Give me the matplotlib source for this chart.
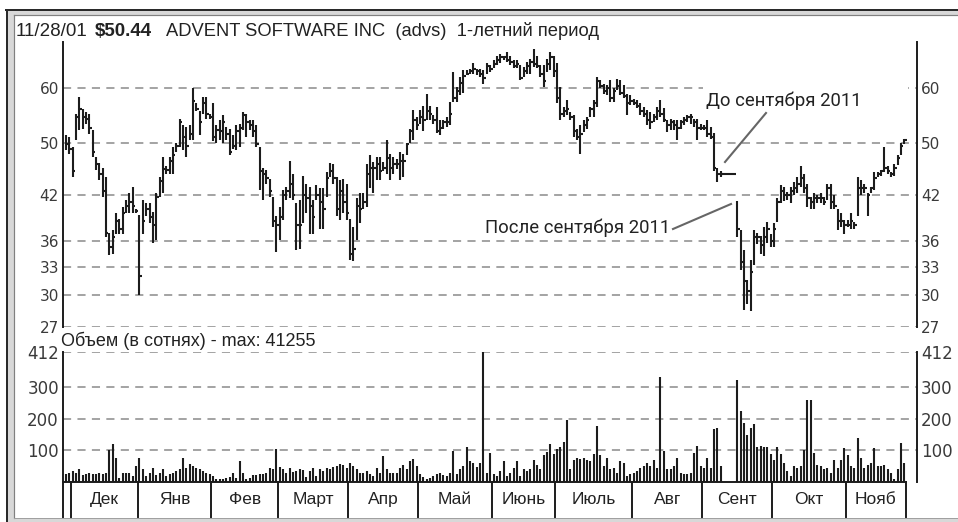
import numpy as np
import matplotlib
matplotlib.use("Agg")
import matplotlib.pyplot as plt
from matplotlib.patches import Rectangle
from matplotlib.lines import Line2D
from matplotlib.ticker import NullLocator

# ---- data (daily bars, Nov 29 2000 .. Nov 28 2001; None = market closed) ----
high = [
    51.3, 51.0,
    49.3, 55.0, 58.3, 56.0, 55.4, 55.1, 52.2, 47.7, 46.7, 46.0, 44.6, 37.0, 37.3, 39.5, 38.8, 40.3, 41.3, 42.2, 43.1, 40.1,
    39.3, 41.3, 40.8, 40.8, 39.7, 42.2, 44.6, 47.7, 46.2, 47.7, 49.3, 50.0, 54.2, 53.0, 52.7, 53.0, 60.0, 57.0, 55.6, 58.3, 58.3, 55.1,
    57.0, 53.0, 53.9, 54.8, 52.7, 52.4, 51.3, 53.0, 53.3, 55.4, 55.1, 53.9, 53.9, 53.0, 49.3, 46.0, 45.6, 44.3, 41.7, 39.1,
    40.3, 42.7, 43.1, 47.0, 45.1, 40.8, 41.3, 44.8, 43.6, 43.1, 41.3, 43.4, 42.9, 42.9, 45.3, 46.7, 46.5, 44.6, 44.1, 44.3, 43.6,
    38.8, 37.7, 41.5, 42.2, 42.2, 46.5, 48.0, 46.9, 47.7, 47.7, 46.9, 50.4, 48.2, 47.7, 47.4, 48.5, 48.2, 49.9, 52.4, 55.7, 54.5,
    55.7, 56.5, 58.9, 56.5, 54.8, 56.4, 53.9, 53.9, 54.5, 57.3, 63.4, 60.3, 62.3, 63.7, 63.7, 64.0, 65.3, 64.0, 64.0, 63.7, 65.2, 64.8,
    65.9, 66.9, 67.2, 66.9, 67.6, 66.9, 65.9, 65.9, 64.8, 64.4, 65.5, 66.2, 68.4, 66.9, 64.8, 64.8, 66.2, 67.6, 66.9,
    65.2, 60.3, 56.4, 57.6, 55.4, 54.8, 52.4, 53.0, 53.9, 54.5, 56.4, 57.6, 62.3, 61.6, 60.9, 60.6, 61.6, 60.0, 61.9, 61.6, 60.6, 58.9, 58.6,
    57.9, 57.6, 57.0, 56.4, 55.7, 55.4, 55.1, 56.4, 57.6, 56.1, 53.9, 54.2, 53.9, 53.9, 53.9, 54.5, 54.8, 55.1, 54.2, 54.2, 53.3,
    53.0, 53.9, 52.7, 51.6, 46.0, 45.5, None, None, None, None, 41.1, 37.3, 34.9, 31.6, 33.8, 37.4, 37.0, 36.6, 37.7, 38.4, 36.9,
    38.2, 41.5, 43.4, 43.1, 42.4, 43.1, 43.9, 44.6, 46.2, 45.1, 43.6, 41.7, 42.2, 42.0, 42.2, 41.7, 43.6, 43.6, 42.0, 40.0, 39.5, 38.6,
    38.6, 39.5, 38.4, 44.6, 44.1, 43.6, 42.2, 43.1, 45.3, 45.3, 45.6, 49.3, 46.2, 45.3, 46.5, 48.0, 49.9, 50.7,
]
low = [
    48.8, 48.2,
    44.6, 50.4, 52.2, 52.4, 53.3, 51.4, 47.7, 45.6, 44.1, 41.7, 36.5, 34.4, 34.5, 36.9, 36.9, 36.9, 39.5, 39.5, 39.5, 39.5,
    30.0, 36.9, 39.1, 38.2, 35.7, 36.1, 41.7, 42.2, 45.1, 45.1, 45.1, 48.5, 49.3, 48.8, 47.7, 50.4, 50.4, 55.6, 51.3, 55.0, 54.2, 54.2,
    50.2, 49.9, 50.4, 49.9, 50.4, 48.0, 49.0, 48.8, 49.3, 52.2, 51.0, 52.2, 51.0, 49.3, 42.7, 41.3, 43.6, 41.7, 37.7, 34.7,
    36.1, 38.6, 41.3, 41.5, 41.3, 34.9, 35.1, 38.2, 39.5, 36.9, 36.9, 41.3, 37.5, 37.5, 41.7, 44.6, 43.6, 39.1, 38.6, 39.5, 38.6,
    33.8, 33.7, 36.1, 38.2, 40.0, 40.3, 42.9, 42.2, 44.1, 44.1, 45.5, 45.1, 44.1, 45.1, 45.8, 44.1, 44.6, 48.0, 49.9, 50.4, 52.2,
    53.3, 52.0, 53.9, 53.9, 53.3, 51.6, 51.3, 52.4, 52.7, 53.0, 57.3, 57.3, 58.6, 59.0, 62.7, 63.0, 63.0, 62.7, 62.3, 60.9, 63.0, 63.4,
    64.1, 64.8, 65.2, 65.9, 65.5, 64.8, 64.1, 64.1, 61.6, 62.3, 63.0, 63.0, 64.4, 64.1, 62.3, 60.3, 63.4, 63.7, 62.3,
    57.0, 53.9, 54.5, 54.8, 53.9, 51.0, 50.4, 48.2, 51.9, 52.4, 54.5, 54.5, 56.4, 60.0, 58.9, 58.6, 57.3, 57.3, 59.6, 58.6, 58.0, 54.8, 56.7,
    56.7, 56.1, 54.8, 54.5, 53.0, 52.4, 53.6, 53.9, 54.5, 53.6, 51.9, 52.2, 52.2, 50.4, 52.4, 53.0, 53.6, 53.3, 52.7, 50.4, 52.2,
    52.2, 51.0, 50.7, 45.5, 43.9, 44.6, None, None, None, None, 36.5, 32.7, 28.6, 29.2, 28.5, 33.2, 35.6, 34.5, 34.2, 35.7, 35.3,
    35.3, 38.4, 40.8, 41.1, 41.3, 40.8, 42.0, 42.2, 43.1, 42.2, 40.3, 40.0, 40.1, 40.8, 40.8, 40.6, 41.3, 40.1, 40.0, 37.3, 37.7, 36.9,
    37.7, 37.5, 37.5, 39.1, 42.0, 42.2, 39.1, 42.2, 42.7, 44.6, 44.8, 45.3, 45.1, 44.6, 44.8, 46.4, 48.0, 49.7,
]
close = [
    49.8, 49.0,
    45.5, 54.5, 56.0, 54.5, 54.2, 52.5, 48.5, 46.5, 45.0, 42.5, 37.0, 35.3, 36.5, 38.5, 37.5, 39.5, 40.5, 41.0, 40.5, 39.8,
    32.0, 38.5, 40.0, 39.0, 38.0, 41.7, 44.0, 45.8, 45.6, 47.0, 48.0, 49.5, 53.5, 51.0, 49.5, 51.5, 57.5, 56.0, 53.5, 57.0, 55.0, 54.5,
    51.0, 52.2, 52.0, 53.5, 51.5, 48.5, 49.5, 52.0, 52.5, 54.8, 53.5, 53.0, 52.0, 49.8, 45.5, 45.0, 44.5, 42.5, 38.5, 38.0,
    39.0, 42.0, 42.5, 43.5, 42.0, 38.0, 38.0, 42.0, 41.5, 40.5, 39.0, 42.0, 41.0, 40.0, 44.5, 45.5, 44.5, 40.0, 42.5, 41.0, 39.5,
    34.5, 35.0, 40.5, 40.0, 41.0, 45.0, 46.0, 46.0, 46.5, 45.5, 46.0, 47.5, 46.0, 46.5, 46.5, 47.0, 47.0, 49.8, 52.0, 54.0, 53.0,
    54.5, 54.0, 55.5, 55.0, 54.0, 52.0, 52.5, 53.5, 53.5, 55.0, 58.0, 59.5, 61.0, 62.5, 63.0, 63.5, 64.0, 63.5, 63.0, 62.0, 64.5, 64.0,
    65.0, 66.0, 66.5, 66.5, 66.0, 65.5, 64.5, 65.0, 62.0, 63.5, 64.5, 65.5, 65.0, 64.5, 63.0, 61.5, 65.0, 66.5, 63.5,
    58.0, 55.0, 55.5, 56.0, 54.5, 52.0, 51.0, 51.5, 53.0, 54.0, 56.0, 57.0, 61.5, 60.5, 59.5, 60.0, 58.0, 59.5, 60.5, 59.0, 58.5, 57.0, 57.5,
    57.0, 56.5, 55.5, 55.0, 54.0, 53.5, 54.5, 55.5, 55.0, 54.0, 53.0, 53.5, 53.0, 52.5, 53.5, 54.0, 54.5, 54.5, 53.5, 52.5, 52.5,
    52.5, 51.5, 51.0, 46.0, 45.0, 45.0, None, None, None, None, 37.5, 33.5, 31.5, 30.5, 32.5, 36.5, 36.5, 35.5, 36.5, 37.5, 36.0,
    37.5, 41.0, 42.5, 42.0, 42.0, 42.5, 43.0, 43.5, 44.5, 43.0, 41.5, 41.0, 41.5, 41.5, 41.5, 41.0, 43.0, 41.0, 40.5, 38.5, 38.5, 38.0,
    38.0, 38.5, 38.0, 43.0, 43.0, 43.0, 42.0, 43.0, 44.5, 45.0, 45.5, 46.0, 45.5, 45.0, 46.0, 47.5, 49.5, 50.44,
]
# volume in hundreds of shares
volume = [
    25, 30, 35, 28, 40, 22, 25, 28, 24, 26, 28, 25, 30,
    103, 121, 76, 12, 28, 30, 28, 20,
    50, 76, 40, 20, 30, 45, 22, 30, 40, 18, 25,
    30, 35, 40, 76, 45, 57, 50, 45, 42, 35, 30, 25,
    20, 10, 8, 10, 12, 15, 30, 12, 65, 30, 10, 12, 22, 22, 24, 25, 30, 45, 40,
    106, 48, 40, 30, 45, 32, 35, 40, 38, 15, 35, 45, 20, 40, 35, 45, 40, 48, 52, 58, 55, 45,
    60, 52, 40, 30, 28, 35, 25, 20, 45, 30, 81, 40, 30, 28, 30, 45, 55, 40, 68, 72, 50,
    25, 15, 10, 12, 20, 25, 30, 22, 20, 30, 97, 25, 40, 50, 111, 65, 60, 48, 60, 412,
    30, 92, 25, 20, 35, 65, 20, 30, 45, 65, 20, 40, 35, 40, 70, 55, 40, 85, 95, 119, 90, 105, 110, 126, 195, 40,
    70, 75, 72, 76, 70, 65, 90, 178, 85, 50, 75, 40, 45, 30, 65, 60,
    20, 25, 30, 35, 45, 50, 60, 50, 70, 45, 333, 97, 40, 40, 50, 76, 30, 25, 25, 30, 92, 113, 50, 45, 76, 45, 169, 172, 50,
    0, 0, 0, 0,
    322, 226, 188, 150, 172, 183, 110, 115, 112, 112, 90, 70, 111, 90, 60, 35, 20, 50, 45, 50,
    103, 261, 261, 92, 55, 50, 40, 45, 30, 70, 45, 70, 108, 85, 50, 45, 140, 75, 45, 55,
    60, 108, 50, 50, 55, 40, 30, 10, 40, 124, 60,
]
month_labels = ["Дек", "Янв", "Фев", "Март", "Апр", "Май", "Июнь", "Июль", "Авг", "Сент", "Окт", "Нояб"]
month_lengths = [2, 20, 22, 20, 21, 21, 22, 19, 23, 21, 21, 22, 18]   # trading days; first = end of Nov 2000
price_ticks = [27, 30, 33, 36, 42, 50, 60]
volume_ticks = [100, 200, 300, 412]
volume_max = 41255

W, H = 958, 522
INK = "#1c1c1c"
GRID = "#9c9c9c"


def box(left, top, right, bottom):
    return [left / W, 1 - bottom / H, (right - left) / W, (bottom - top) / H]


def fx(x):
    return x / W


def fy(y):
    return 1 - y / H


fig = plt.figure(figsize=(W / 100, H / 100), dpi=100)

# window frame
fig.add_artist(Rectangle((fx(6), 0), 1, fy(9.5), transform=fig.transFigure,
                         facecolor="#d8d8d8", edgecolor="none", zorder=-5))
fig.add_artist(Rectangle((fx(14), fy(517.5)), 1, fy(15.5) - fy(517.5), transform=fig.transFigure,
                         facecolor="white", edgecolor="none", zorder=-4))
for (x0, y0, x1, y1, c, w) in [(6, 9.5, W, 9.5, "#2a2a2a", 2), (7, 9.5, 7, H, "#2a2a2a", 2),
                               (13.5, 15, W, 15, "#808080", 1.2), (13.5, 15, 13.5, 518, "#808080", 1.2),
                               (13.5, 518, W, 518, "#a0a0a0", 1)]:
    fig.add_artist(Line2D([fx(x0), fx(x1)], [fy(y0), fy(y1)], transform=fig.transFigure, color=c, lw=w * 0.72))

idx = np.arange(len(close))
hi = np.array(high, dtype=float)
lo = np.array(low, dtype=float)
cl = np.array(close, dtype=float)
xlim = (-0.9, 254.8)


def style_axes(ax, ticks, fontsize):
    for s in ("top", "bottom"):
        ax.spines[s].set_visible(False)
    for s in ("left", "right"):
        ax.spines[s].set_color(INK)
        ax.spines[s].set_linewidth(1.4)
    ax.set_xticks([])
    ax.set_yticks(ticks)
    ax.set_yticklabels([str(t) for t in ticks])
    ax.yaxis.set_minor_locator(NullLocator())
    ax.tick_params(axis="y", which="both", length=0, pad=3, left=True, right=True,
                   labelleft=True, labelright=True, labelsize=fontsize, labelcolor="#3a3a3a")
    for lab in ax.get_yticklabels():
        lab.set_family("DejaVu Sans")
    for t in ticks:
        ax.axhline(t, color=GRID, lw=1.3, ls=(0, (4.5, 3.5)), zorder=0)
    ax.set_xlim(*xlim)


# price panel
ax = fig.add_axes(box(63, 42, 917, 327))
ax.set_yscale("log")
ax.set_ylim(27, 70)
style_axes(ax, price_ticks, 11)
ax.vlines(idx, lo, hi, color=INK, lw=1.5)
ax.hlines(cl, idx, idx + 0.7, color=INK, lw=1.5)
halt = np.where(np.isnan(cl))[0]
ax.hlines(cl[halt[0] - 1], halt[0] - 1, halt[-1] + 0.6, color=INK, lw=1.5)

# annotations
fig.add_artist(Rectangle((fx(703), fy(114)), fx(908) - fx(703), fy(80) - fy(114),
                         transform=fig.transFigure, facecolor="white", edgecolor="none"))
fig.text(fx(706), fy(101), "До сентября 2011", fontsize=13.3, family="Roboto", color="#222222", va="center")
fig.text(fx(485), fy(228), "После сентября 2011", fontsize=13.3, family="Roboto", color="#222222", va="center")
fig.add_artist(Line2D([fx(766), fx(725)], [fy(113), fy(162)], transform=fig.transFigure, color="#666666", lw=1.5))
fig.add_artist(Line2D([fx(673), fx(731)], [fy(229), fy(204)], transform=fig.transFigure, color="#666666", lw=1.5))

# volume panel
axv = fig.add_axes(box(63, 352, 917, 482))
axv.set_ylim(0, 412)
style_axes(axv, volume_ticks, 12)
axv.vlines(idx, 0, volume, color=INK, lw=1.5)

# month band
axm = fig.add_axes(box(63, 482, 917, 517))
axm.set_xlim(*xlim)
axm.set_ylim(0, 1)
axm.axis("off")
bounds = np.cumsum(month_lengths) - 0.5
axm.plot([xlim[0], bounds[-1]], [1, 1], color=INK, lw=1.4, clip_on=False)
axm.plot([xlim[0], xlim[0]], [0, 1], color=INK, lw=1.4, clip_on=False)
for b in bounds:
    axm.plot([b, b], [0, 1], color=INK, lw=1.4, clip_on=False)
for k, lab in enumerate(month_labels):
    axm.text((bounds[k] + bounds[k + 1]) / 2, 0.5, lab, ha="center", va="center",
             fontsize=12.5, family="Liberation Sans", color="#222222")

# header texts
fig.text(fx(16), fy(31), "11/28/01", fontsize=13.5, family="Liberation Sans", color="#222222", va="center")
fig.text(fx(95), fy(31), "$50.44", fontsize=13.5, family="Liberation Sans", weight="bold", color="#222222", va="center")
fig.text(fx(166), fy(31), "ADVENT SOFTWARE INC  (advs)  1-летний период", fontsize=13.2,
         family="Liberation Sans", color="#222222", va="center")
fig.text(fx(61), fy(341), f"Объем (в сотнях) - max: {volume_max}", fontsize=13,
         family="Liberation Sans", color="#222222", va="center")

fig.savefig("out.png", dpi=100)
